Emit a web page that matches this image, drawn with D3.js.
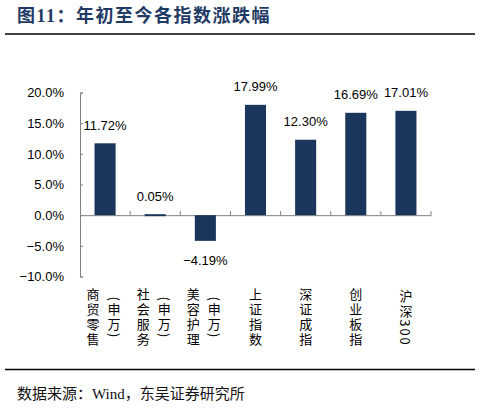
<!DOCTYPE html>
<html>
<head>
<meta charset="utf-8">
<script src="https://cdn.jsdelivr.net/npm/d3@7"></script>
<style>
  body { margin: 0; background: #fff; }
</style>
</head>
<body>
<div id="chart"></div>
<script>
// Data
const categories = ["商贸零售(申万)", "社会服务(申万)", "美容护理(申万)", "上证指数", "深证成指", "创业板指", "沪深300"];
const labelColumns = [["商贸零售", "(申万)"], ["社会服务", "(申万)"], ["美容护理", "(申万)"], ["上证指数"], ["深证成指"], ["创业板指"], ["沪深300"]];
const values = [11.72, 0.05, -4.19, 17.99, 12.30, 16.69, 17.01];
const yTicks = [-10, -5, 0, 5, 10, 15, 20];

const width = 481;
const height = 416;
const barColor = "#1b365d";
const axisColor = "#808080";
const numFont = "'Liberation Sans', Arial, 'Noto Sans CJK SC', sans-serif";
const cjkFont = "'Liberation Serif', 'Noto Sans CJK SC', serif";

const svg = d3.select("#chart")
  .append("svg")
    .attr("width", width)
    .attr("height", height);

// Title and rules
svg.append("text")
    .attr("x", 17)
    .attr("y", 22)
    .attr("font-family", cjkFont)
    .attr("font-weight", "bold")
    .attr("font-size", 18)
    .attr("letter-spacing", 1.5)
    .attr("fill", "#1f3a64")
    .text("图11：年初至今各指数涨跌幅");

svg.append("line")
    .attr("x1", 5).attr("x2", 475)
    .attr("y1", 34).attr("y2", 34)
    .attr("stroke", "#000")
    .attr("stroke-width", 1.7);

svg.append("line")
    .attr("x1", 5).attr("x2", 475)
    .attr("y1", 369.5).attr("y2", 369.5)
    .attr("stroke", "#000")
    .attr("stroke-width", 1.7);

svg.append("text")
    .attr("x", 17)
    .attr("y", 399)
    .attr("font-family", cjkFont)
    .attr("font-size", 15)
    .attr("fill", "#111")
    .text("数据来源：Wind，东吴证券研究所");

// Scales
const xScale = d3.scaleBand()
  .domain(categories)
  .range([80, 431]);

const yScale = d3.scaleLinear()
  .domain([-10, 20])
  .range([276.5, 92.5]);

const barWidth = xScale.bandwidth() * 0.42;

// Y axis
const leftAxis = d3.axisLeft(yScale)
  .tickValues(yTicks)
  .tickSize(-3)
  .tickPadding(16)
  .tickFormat(d => d3.format(".1f")(d) + "%");

const yAxis = svg.append("g")
    .attr("transform", "translate(80, 0)")
    .call(leftAxis);
yAxis.select(".domain").attr("stroke", axisColor);
yAxis.selectAll(".tick line").attr("stroke", axisColor);
yAxis.selectAll(".tick text")
    .attr("font-family", numFont)
    .attr("font-size", 13)
    .attr("fill", "#000");

// Zero line with category ticks
const zeroAxis = d3.axisTop(xScale)
  .tickValues([])
  .tickSizeOuter(0);
const xAxis = svg.append("g")
    .attr("transform", `translate(0, ${yScale(0)})`)
    .call(zeroAxis);
xAxis.select(".domain").attr("stroke", axisColor);

xAxis.selectAll(".cat-tick")
  .data(categories)
  .join("line")
    .attr("class", "cat-tick")
    .attr("x1", d => xScale(d) + xScale.bandwidth())
    .attr("x2", d => xScale(d) + xScale.bandwidth())
    .attr("y1", 0)
    .attr("y2", -4)
    .attr("stroke", axisColor);

// Bars (drawn over the zero line)
svg.append("g")
  .selectAll("rect")
  .data(values)
  .join("rect")
    .attr("x", (d, i) => xScale(categories[i]) + (xScale.bandwidth() - barWidth) / 2)
    .attr("y", d => d >= 0 ? Math.min(yScale(d), yScale(0) - 1) : yScale(0))
    .attr("width", barWidth)
    .attr("height", d => Math.max(2, Math.abs(yScale(d) - yScale(0))))
    .attr("fill", barColor);

// Value labels
svg.append("g")
  .selectAll("text")
  .data(values)
  .join("text")
    .attr("x", (d, i) => xScale(categories[i]) + xScale.bandwidth() / 2)
    .attr("y", d => d >= 0 ? yScale(d) - 13.5 : yScale(d) + 24.5)
    .attr("text-anchor", "middle")
    .attr("font-family", numFont)
    .attr("font-size", 13)
    .attr("fill", "#000")
    .text(d => d3.format(".2f")(d) + "%");

// Category labels (vertical)
const catGroups = svg.append("g")
  .selectAll("g")
  .data(labelColumns)
  .join("g")
    .attr("transform", (d, i) => `translate(${xScale(categories[i]) + xScale.bandwidth() / 2}, 318)`);

catGroups.selectAll("text")
  .data(d => d.map((t, j) => ({t, j, n: d.length})))
  .join("text")
    .attr("x", d => d.n === 1 ? 0 : (d.j === 0 ? -12 : 9))
    .attr("y", 0)
    .attr("text-anchor", "middle")
    .style("writing-mode", "vertical-rl")
    .attr("font-family", "'Noto Sans CJK SC', sans-serif")
    .attr("font-size", 13)
    .attr("letter-spacing", 2)
    .attr("fill", "#000")
    .text(d => d.t);
</script>
</body>
</html>
